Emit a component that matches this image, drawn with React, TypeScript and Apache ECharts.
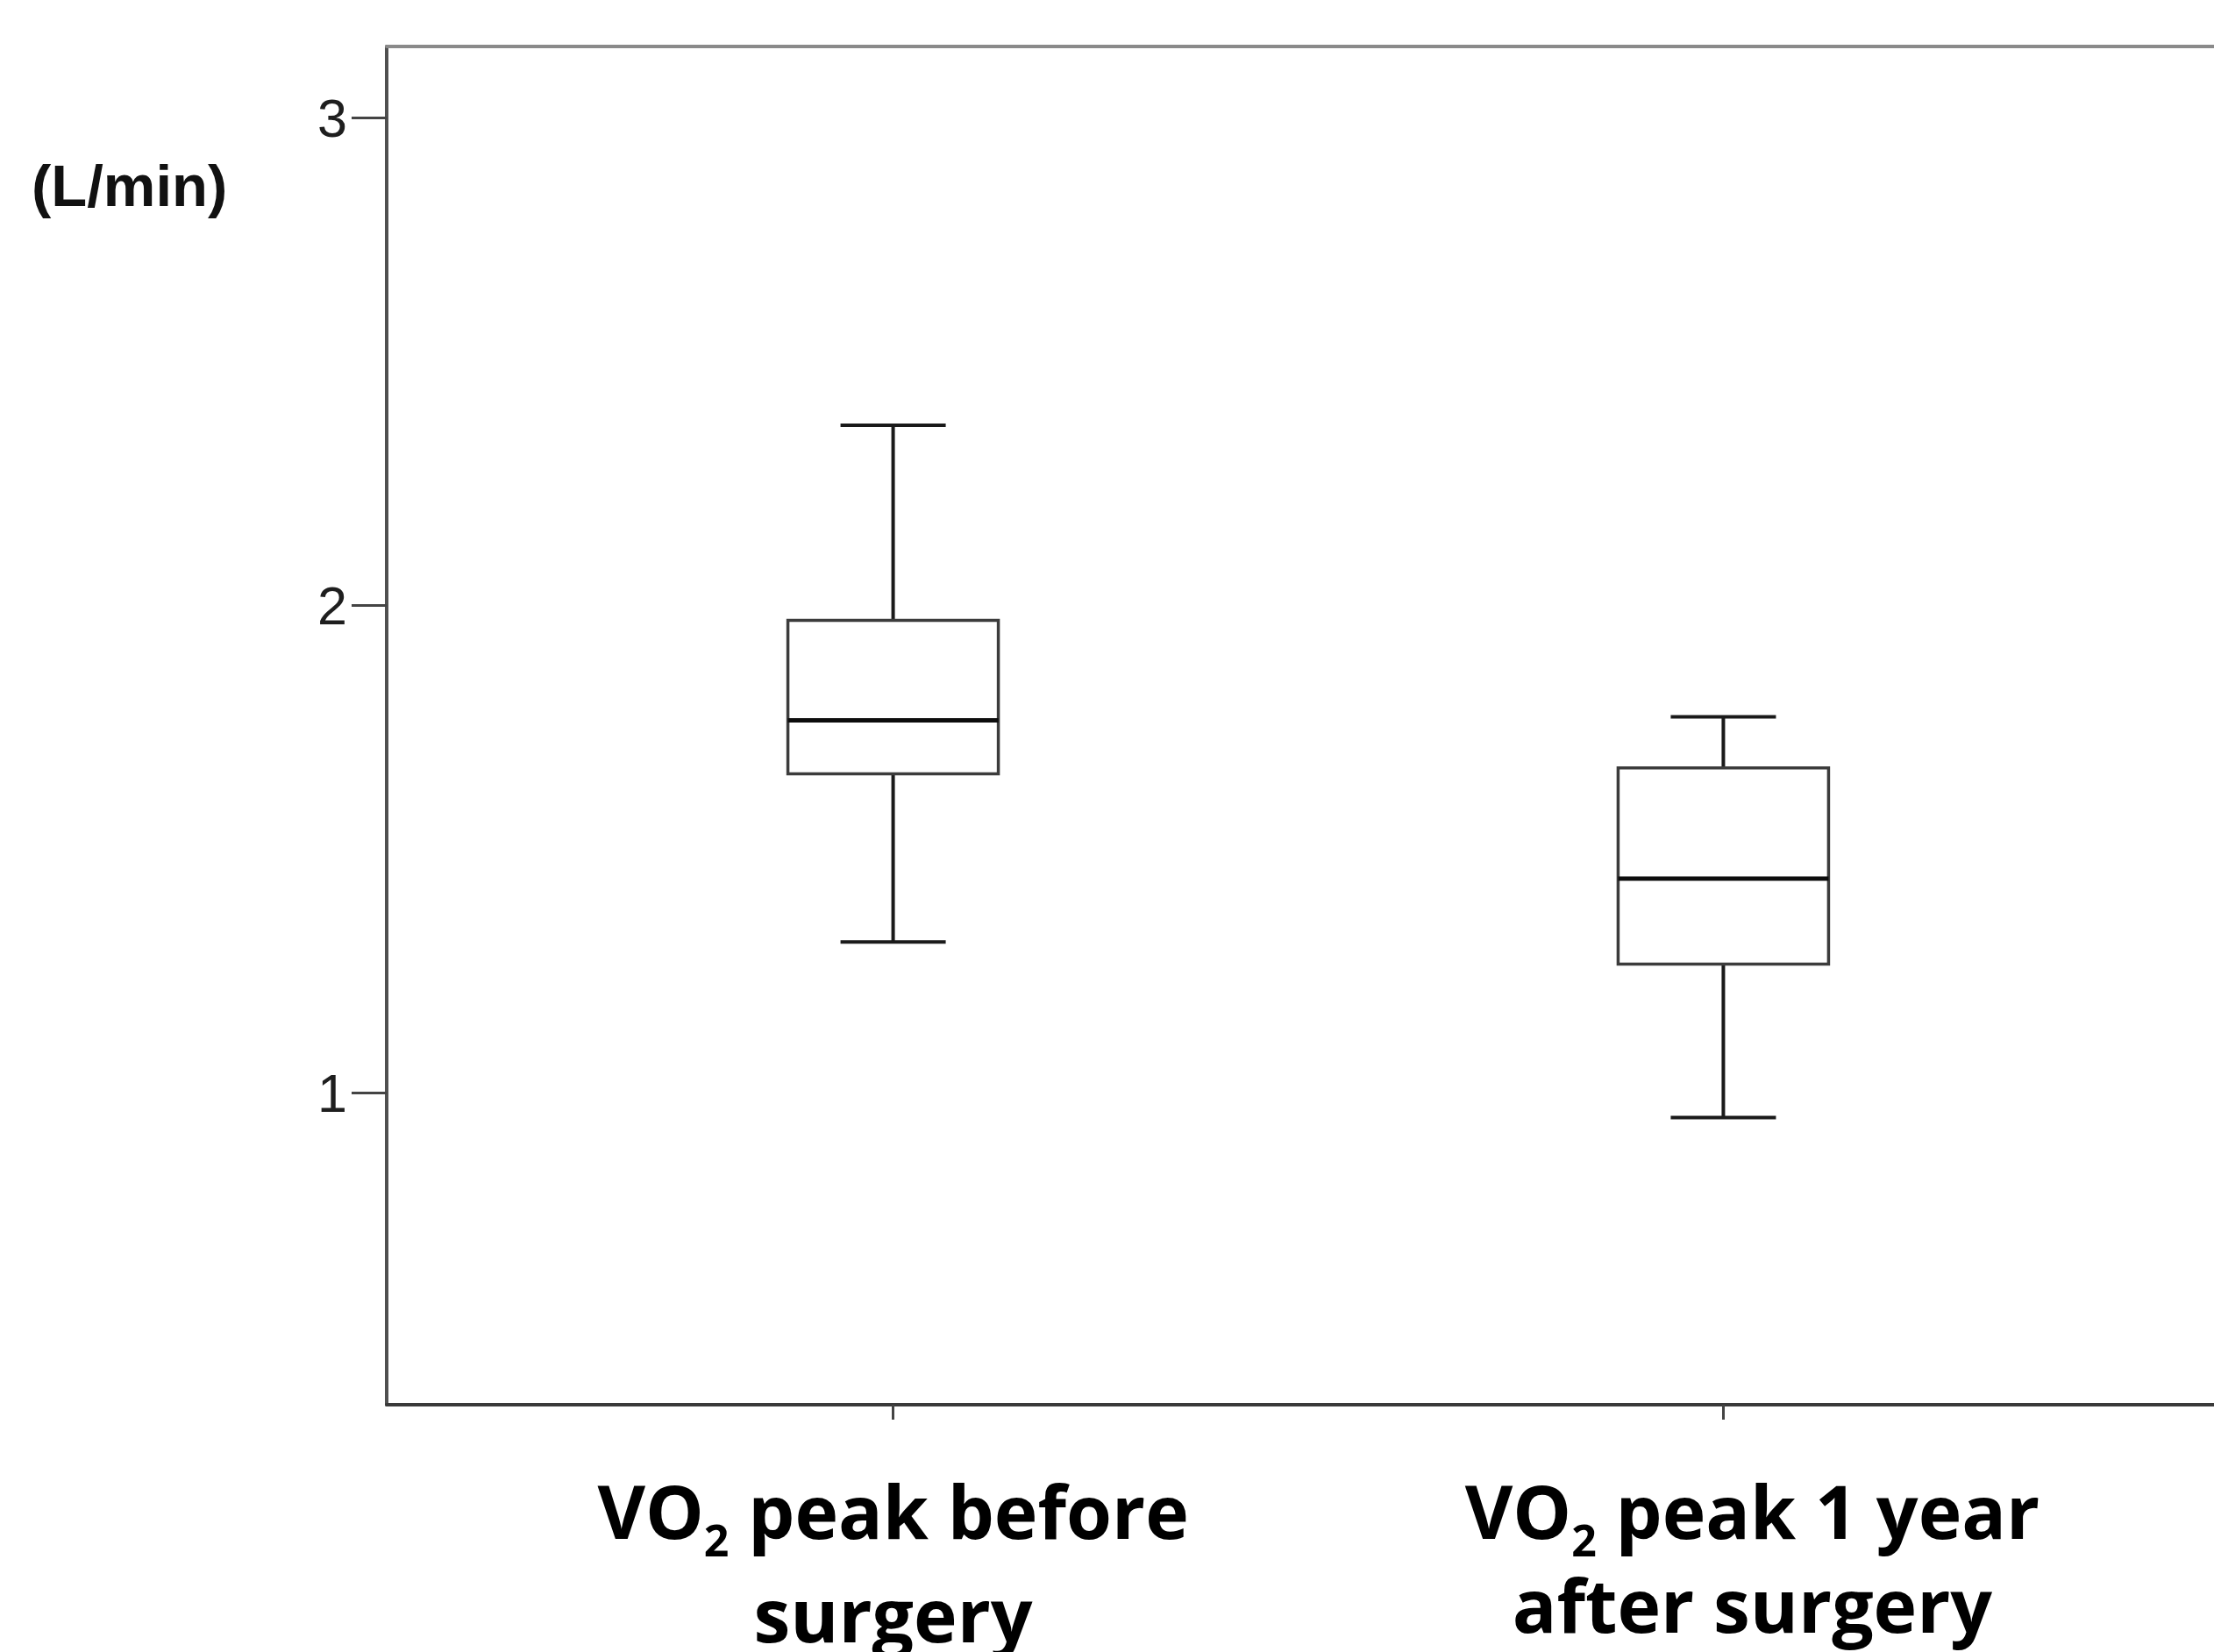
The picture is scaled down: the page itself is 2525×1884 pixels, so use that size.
import React, { useEffect, useRef } from "react";
import * as echarts from "echarts";

// ---- data ----
const categories = ["VO₂ peak before surgery", "VO₂ peak 1 year after surgery"];
const positions = [1, 2];
const whiskerLow = [1.31, 0.95];
const q1 = [1.655, 1.265];
const median = [1.765, 1.44];
const q3 = [1.97, 1.667];
const whiskerHigh = [2.37, 1.772];
const yTicks = [1, 2, 3];
const yAxisUnit = "(L/min)";

// ---- style constants ----
const BOX_W = 240;
const CAP_W = 120;

export default function App() {
  const ref = useRef<HTMLDivElement>(null);
  useEffect(() => {
    if (!ref.current) return;
    const chart = echarts.init(ref.current, null, { renderer: "svg" });
    const data = positions.map((p, i) => [p, whiskerLow[i], q1[i], median[i], q3[i], whiskerHigh[i]]);
    const labelText = (v: number) => {
      if (v === positions[0]) return "{a|VO}{s|2}{b| peak before}\n{b|surgery}";
      if (v === positions[1]) return "{a2|VO}{s|2}{b| peak 1 year}\n{c2|after surgery}";
      return "";
    };
    const mainStyle = {
      fontFamily: "Open Sans",
      fontWeight: "bold" as const,
      fontSize: 84,
      color: "#000",
      lineHeight: 118,
    };
    const option: any = {
      animation: false,
      backgroundColor: "#fff",
      grid: { left: 441, top: 53, width: 2102, height: 1549, outerBoundsMode: "none", containLabel: false },
      xAxis: [
        {
          type: "value",
          min: 0.39,
          max: 2.61,
          position: "bottom",
          splitLine: { show: false },
          axisLine: { show: true, onZero: false, lineStyle: { color: "#3a3a3a", width: 4 } },
          axisTick: { show: true, customValues: positions, length: 17, lineStyle: { color: "#444", width: 3 } },
          axisLabel: {
            show: true,
            customValues: positions,
            margin: 179,
            verticalAlign: "middle",
            formatter: labelText,
            rich: {
              a: { ...mainStyle },
              a2: { ...mainStyle, padding: [0, 0, 0, 66] },
              c2: { ...mainStyle, padding: [0, 0, 22, 66] },
              b: { ...mainStyle },
              s: { ...mainStyle, fontSize: 50, lineHeight: 30, verticalAlign: "bottom" },
            },
          },
        },
        {
          type: "value",
          min: 0.39,
          max: 2.61,
          position: "top",
          splitLine: { show: false },
          axisLine: { show: true, onZero: false, lineStyle: { color: "#8a8a8a", width: 4 } },
          axisTick: { show: false },
          axisLabel: { show: false },
        },
      ],
      yAxis: {
        type: "value",
        min: 0.361,
        max: 3.147,
        splitLine: { show: false },
        axisLine: { show: true, onZero: false, lineStyle: { color: "#505050", width: 4 } },
        axisTick: { show: true, customValues: yTicks, length: 40, lineStyle: { color: "#444", width: 3 } },
        axisLabel: {
          show: true,
          customValues: yTicks,
          margin: 45,
          fontFamily: "Liberation Sans",
          fontSize: 61,
          color: "#1e1e1e",
          formatter: (v: number) => String(v),
        },
      },
      graphic: [
        {
          type: "text",
          left: 36,
          top: 178,
          style: {
            text: yAxisUnit,
            fontFamily: "Liberation Sans",
            fontWeight: "bold",
            fontSize: 67,
            fill: "#111",
          },
        },
      ],
      series: [
        {
          type: "custom",
          name: "boxes",
          xAxisIndex: 0,
          encode: { x: 0, y: [1, 2, 3, 4, 5] },
          data,
          renderItem: (params: any, api: any) => {
            const x = api.value(0);
            const pMin = api.coord([x, api.value(1)]);
            const pQ1 = api.coord([x, api.value(2)]);
            const pMed = api.coord([x, api.value(3)]);
            const pQ3 = api.coord([x, api.value(4)]);
            const pMax = api.coord([x, api.value(5)]);
            const cx = pMed[0];
            const lineStyle = { stroke: "#1a1a1a", lineWidth: 4, fill: null };
            return {
              type: "group",
              children: [
                { type: "line", shape: { x1: cx, y1: pMax[1], x2: cx, y2: pQ3[1] }, style: lineStyle },
                { type: "line", shape: { x1: cx, y1: pQ1[1], x2: cx, y2: pMin[1] }, style: lineStyle },
                { type: "line", shape: { x1: cx - CAP_W / 2, y1: pMax[1], x2: cx + CAP_W / 2, y2: pMax[1] }, style: lineStyle },
                { type: "line", shape: { x1: cx - CAP_W / 2, y1: pMin[1], x2: cx + CAP_W / 2, y2: pMin[1] }, style: lineStyle },
                {
                  type: "rect",
                  shape: { x: cx - BOX_W / 2, y: pQ3[1], width: BOX_W, height: pQ1[1] - pQ3[1] },
                  style: { fill: "#fff", stroke: "#3c3c3c", lineWidth: 3.5 },
                },
                { type: "line", shape: { x1: cx - BOX_W / 2, y1: pMed[1], x2: cx + BOX_W / 2, y2: pMed[1] }, style: { stroke: "#0d0d0d", lineWidth: 5 } },
              ],
            };
          },
        },
      ],
    };
    chart.setOption(option);
    return () => chart.dispose();
  }, []);
  return (
    <div
      ref={ref}
      style={{ position: "fixed", left: 0, top: 0, width: 2525, height: 1884, background: "#fff" }}
      aria-label={categories.join(" / ")}
    />
  );
}
